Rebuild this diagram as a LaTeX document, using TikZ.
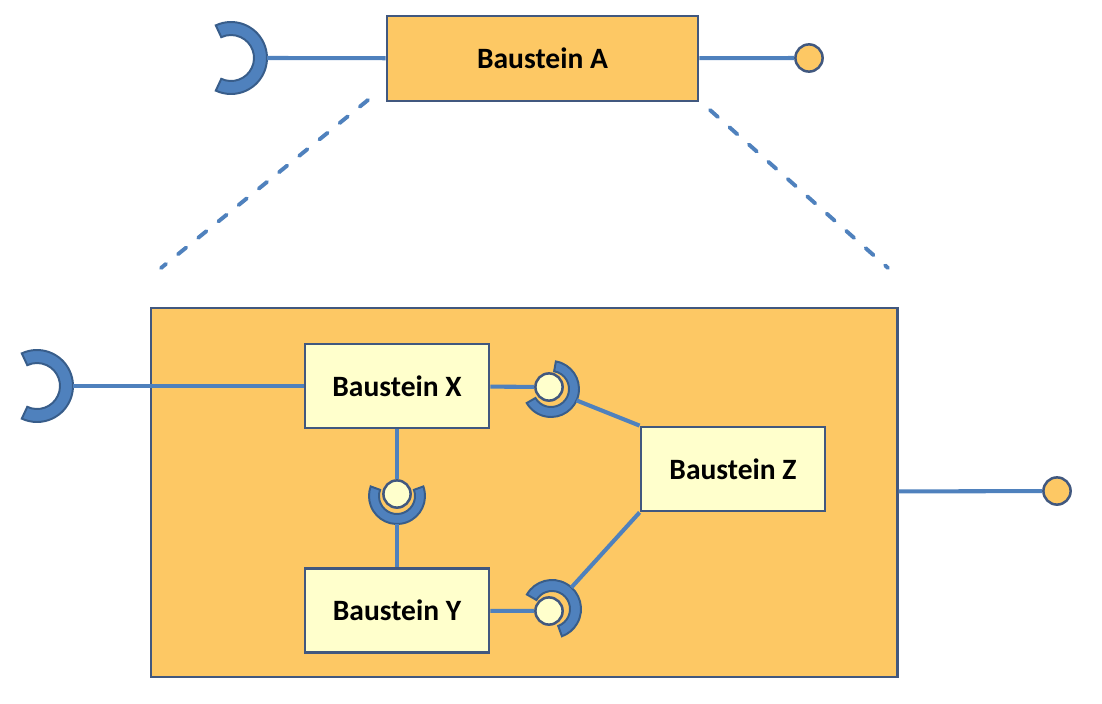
\documentclass[tikz,border=0pt]{standalone}
\usepackage{fontspec}
\setmainfont{Carlito}
\usetikzlibrary{calc}
\definecolor{orangefill}{HTML}{FDC864}
\definecolor{paleyellow}{HTML}{FFFFCC}
\definecolor{boxline}{HTML}{41587F}
\definecolor{wire}{HTML}{4F81BD}
\definecolor{socketline}{HTML}{385D8A}

\begin{document}
\begin{tikzpicture}
[x=0.025cm, y=-0.025cm,
  boxDecorate/.style={shape=rectangle,draw=boxline,line width=2pt,fill=paleyellow,%
    minimum width=4.6cm,minimum height=2.1cm,inner sep=0pt,%
    font=\fontsize{21}{25}\selectfont\bfseries},%
  ballDecorate/.style={shape=circle,draw=boxline,line width=1.8pt,inner sep=0pt,minimum size=0.68cm},%
  lineDecorate/.style={-,draw=wire,line width=2.9pt},%
  socketDecorate/.style={fill=wire,draw=socketline,line width=1.4pt},%
  dashDecorate/.style={draw=wire,line width=2.8pt,line cap=round,dash pattern=on 7.5pt off 11pt}]
\useasboundingbox (0,0) rectangle (1102,703);
%% outer block and zoomed block
\node (A) at (542.5,58.5) [boxDecorate,fill=orangefill,minimum width=7.775cm,minimum height=2.125cm] {Baustein A};
\node (inner) at (524,492.5) [shape=rectangle,draw=boxline,line width=2pt,fill=orangefill,%
  minimum width=18.65cm,minimum height=9.225cm] {};
%% inner blocks
\foreach \nodename/\x/\y/\txt in {
  X/397/386/Baustein X, Y/397/610.5/Baustein Y, Z/733/469/Baustein Z}
{
  \node (\nodename) at (\x,\y) [boxDecorate] {\txt};
}
%% balls
\foreach \nodename/\x/\y/\col in {
  ballA/809/58/orangefill, ballIn/1057/491/orangefill,
  ballXZ/549/387/paleyellow, ballXY/397/494/paleyellow, ballYZ/549/611/paleyellow}
{
  \node (\nodename) at (\x,\y) [ballDecorate,fill=\col] {};
}
%% sockets
\foreach \sname/\x/\y/\rin/\rout/\sa/\ea in {
  socA/231/58/23/36/-115/115, socIn/37/386/23/36/-115/115,
  socXZ/551/389/18/28/-80/150, socXY/397/496/18/28/-20/200,
  socYZ/552/609/18/29/-150/70}
{
  \coordinate (\sname) at (\x,\y);
  \filldraw[socketDecorate] (\sname) ++(\sa:\rout) arc[start angle=\sa,end angle=\ea,radius=\rout]
    -- ($(\sname)+(\ea:\rin)$) arc[start angle=\ea,end angle=\sa,radius=\rin] -- cycle;
}
\coordinate (socA-out) at ($(socA)+(0:36)$);
\coordinate (socIn-out) at ($(socIn)+(0:36)$);
\coordinate (socXZ-out) at ($(socXZ)+(24:28)$);
\coordinate (socXY-out) at ($(socXY)+(90:28)$);
\coordinate (socYZ-out) at ($(socYZ)+(-48:29)$);
%% dashed zoom lines
\coordinate (zoomL1) at (368,100);
\coordinate (zoomL2) at (161,268);
\coordinate (zoomR1) at (710,110);
\coordinate (zoomR2) at (888,268);
\draw[dashDecorate] (zoomL1) -- (zoomL2);
\draw[dashDecorate] (zoomR1) -- (zoomR2);
%% edges or lines
\path
\foreach \startnode/\endnode in {
  socA-out/A, A/ballA, inner/ballIn, socIn-out/X, X/ballXZ, socXZ-out/Z.north west,
  X/ballXY, socXY-out/Y, Y/ballYZ, socYZ-out/Z.south west}
{
  (\startnode) edge[lineDecorate] (\endnode)
};
\end{tikzpicture}
\end{document}
